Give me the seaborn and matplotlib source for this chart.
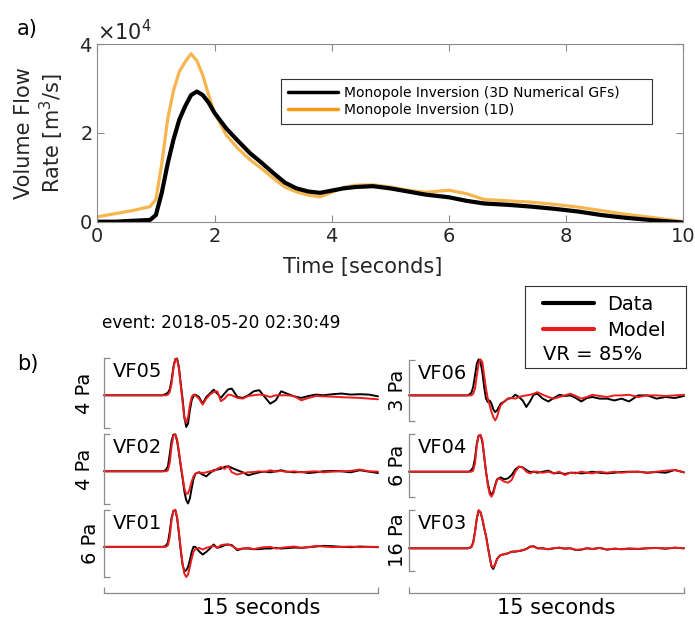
import numpy as np
import matplotlib
matplotlib.use("Agg")
import matplotlib.pyplot as plt
import matplotlib.ticker as mtick
from matplotlib.lines import Line2D
import seaborn as sns

# ----- a) volume flow rate (m^3/s) --------------------------------
flow_t = [0, 0.3, 0.6, 0.9, 1.0, 1.1, 1.2, 1.3, 1.4, 1.5, 1.6, 1.7, 1.8, 1.9, 2.0,
          2.2, 2.4, 2.6, 2.8, 3.0, 3.2, 3.4, 3.6, 3.8, 4.0, 4.2, 4.4, 4.7, 5.0,
          5.3, 5.6, 6.0, 6.3, 6.6, 7.0, 7.4, 7.8, 8.2, 8.6, 9.0, 9.5, 10.0]
flow_3d = [0, 0, 200, 400, 1500, 6500, 13000, 18500, 23000, 26000, 28500, 29300,
           28500, 26800, 24500, 21000, 18200, 15500, 13300, 11000, 8800, 7500,
           6800, 6500, 7000, 7500, 7800, 8000, 7500, 6800, 6100, 5500, 4700,
           4100, 3800, 3400, 2900, 2300, 1500, 900, 300, -200]
flow_1d = [1100, 1800, 2500, 3400, 5000, 13000, 23000, 29500, 33800, 36000, 37800,
           36200, 33000, 28500, 24500, 19500, 16500, 14000, 12000, 9800, 7800,
           6700, 6000, 5600, 6600, 7700, 8200, 8300, 7800, 7100, 6600, 7100, 6300,
           5000, 4700, 4400, 3900, 3300, 2500, 1700, 900, 0]
flow_labels = ["Monopole Inversion (3D Numerical GFs)", "Monopole Inversion (1D)"]

# ----- b) waveforms (Pa) --------------------------------------------
wave_t = [0, 3.0, 3.2, 3.3, 3.4, 3.5, 3.6, 3.7, 3.8, 3.9, 4.0, 4.1, 4.2, 4.3, 4.4,
          4.5, 4.6, 4.7, 4.8, 4.9, 5.0, 5.2, 5.4, 5.6, 5.8, 6.0, 6.2, 6.4, 6.6,
          6.8, 7.0, 7.3, 7.6, 7.9, 8.2, 8.5, 8.8, 9.1, 9.4, 9.7, 10.0, 10.4, 10.8,
          11.2, 11.6, 12.0, 12.5, 13.0, 13.5, 14.0, 14.5, 15.0]

data_vf05 = [0, 0, 0, 0.04, 0.08, 0.15, 0.34, 0.86, 1.62, 2.06, 2.10, 1.62, 0.67,
             -0.19, -1.24, -1.81, -1.62, -0.86, -0.29, -0.04, 0.04, -0.10, -0.48,
             -0.10, 0.10, 0.32, 0.10, -0.15, 0.10, 0.34, 0.38, -0.10, -0.15, 0,
             0.23, 0.29, -0.10, -0.48, -0.29, 0.23, 0.10, -0.06, -0.15, -0.04,
             0.04, 0, 0.06, 0.10, 0.04, 0.06, 0.04, -0.06]
model_vf05 = [0, 0, 0, 0, 0, 0.04, 0.19, 0.67, 1.52, 2.06, 2.06, 1.52, 0.57, -0.38,
              -1.33, -1.56, -1.24, -0.57, -0.10, 0.04, 0, -0.19, -0.53, -0.19, 0.04,
              0.19, 0.23, -0.34, -0.19, 0.04, 0, -0.15, -0.19, -0.04, 0, 0.04, 0,
              -0.10, 0, 0, 0, -0.04, -0.29, -0.15, -0.04, -0.06, -0.08, -0.11,
              -0.13, -0.15, -0.19, -0.23]
data_vf02 = [0, 0, 0, 0.02, 0.10, 0.29, 0.97, 1.74, 2.09, 2.11, 1.74, 1.06, 0.29,
             -0.39, -1.16, -1.64, -1.84, -1.55, -0.97, -0.44, -0.14, -0.06, -0.19,
             -0.29, -0.10, 0.06, 0.10, 0.14, 0.25, 0.29, 0.19, 0.06, -0.06, -0.23,
             -0.14, -0.06, -0.02, -0.06, 0, 0.06, -0.02, -0.06, -0.04, -0.10,
             -0.06, 0, 0.02, 0, -0.06, 0.06, -0.02, -0.10]
model_vf02 = [0, 0, 0, 0, 0, 0.06, 0.48, 1.45, 2.03, 2.11, 1.84, 1.16, 0.39, -0.29,
              -0.97, -1.30, -1.26, -0.97, -0.58, -0.29, -0.14, -0.06, -0.10, -0.06,
              0, 0, 0.14, 0.25, 0.14, 0.29, -0.06, -0.19, -0.10, -0.06, -0.04, 0,
              -0.04, 0.06, -0.02, 0.02, -0.04, 0, -0.06, -0.02, 0, -0.06, -0.02, 0,
              0.02, 0.10, 0, -0.02]
data_vf01 = [0, 0, 0, 0.03, 0.12, 0.39, 1.35, 2.61, 3.21, 3.30, 2.61, 1.20, -0.30,
             -1.59, -2.19, -2.10, -1.80, -1.20, -0.45, 0, 0, -0.39, -0.69, -0.45,
             -0.15, 0.21, -0.09, 0, 0.15, 0.21, 0.15, -0.30, -0.15, -0.15, -0.21,
             -0.21, -0.15, -0.15, -0.09, -0.15, -0.12, -0.06, -0.09, -0.03, 0.03,
             0.09, 0.06, 0, -0.03, 0.03, 0, -0.03]
model_vf01 = [0, 0, 0, 0, 0, 0.15, 0.90, 2.40, 3.21, 3.33, 2.70, 1.35, -0.15, -1.50,
              -2.40, -2.70, -2.49, -1.80, -1.05, -0.45, -0.21, -0.09, -0.24, -0.09,
              0, 0.09, -0.09, 0.15, 0.21, 0.21, 0.09, -0.21, -0.15, -0.09, -0.21,
              -0.09, -0.03, 0, -0.15, -0.09, -0.03, 0.03, -0.09, -0.03, 0.09, 0.03,
              -0.03, 0, 0.03, -0.03, 0, 0]
data_vf06 = [0, 0, 0, 0.05, 0.13, 0.41, 0.98, 1.56, 1.77, 1.64, 1.15, 0.41, -0.16,
             -0.33, -0.25, -0.41, -0.69, -0.82, -0.74, -0.57, -0.41, -0.30, -0.16,
             -0.13, 0.03, -0.08, -0.25, -0.57, -0.30, 0.03, 0.08, -0.16, -0.30,
             -0.13, 0.03, -0.03, 0, -0.13, -0.30, -0.13, -0.08, -0.16, -0.16,
             -0.25, -0.16, -0.30, 0, 0, -0.16, -0.08, -0.13, -0.03]
model_vf06 = [0, 0, 0, 0, 0, 0.08, 0.33, 0.98, 1.56, 1.77, 1.64, 0.98, 0.33, -0.16,
              -0.49, -0.82, -1.07, -1.23, -1.07, -0.74, -0.49, -0.30, -0.16, -0.13,
              -0.16, -0.08, -0.03, 0, 0.03, 0.08, 0.16, 0.03, -0.08, -0.16, -0.08,
              0, 0.08, -0.03, -0.16, -0.08, 0.03, -0.03, -0.08, 0, 0, 0.03, -0.08,
              0, 0, -0.03, 0, 0.03]
data_vf04 = [0, 0, 0, 0.03, 0.16, 0.41, 1.27, 2.70, 3.43, 3.49, 2.86, 1.43, 0,
             -1.11, -1.90, -2.22, -1.90, -1.27, -0.73, -0.63, -0.54, -0.73, -0.63,
             -0.32, 0.22, 0.48, 0.41, 0.16, -0.03, 0, -0.10, 0, 0.10, -0.16, -0.10,
             -0.22, -0.10, -0.10, -0.16, -0.10, 0, -0.10, -0.16, -0.10, -0.03, 0, 0,
             -0.10, -0.03, -0.10, 0.16, -0.06]
model_vf04 = [0, 0, 0, 0, 0, 0.10, 0.79, 2.54, 3.43, 3.52, 3.02, 1.59, 0, -1.27,
              -2.13, -2.38, -2.06, -1.37, -0.79, -0.63, -0.73, -0.95, -1.05, -0.79,
              0, 0.48, 0.41, 0, -0.16, 0, 0, -0.10, 0, -0.16, 0, -0.32, -0.10,
              -0.16, 0, -0.10, -0.16, 0, -0.10, 0, -0.10, -0.03, 0, -0.10, 0, 0.10,
              0.16, -0.06]
data_vf03 = [0, 0, 0, 0.17, 0.35, 1.57, 4.37, 7.87, 9.88, 9.44, 7.69, 5.24, 3.32,
             0.44, -2.19, -4.81, -5.42, -4.20, -2.80, -2.19, -1.75, -1.57, -1.31,
             -0.87, -0.87, -0.70, -0.52, -0.17, 0.44, 0.52, 0, 0, -0.26, 0, 0.17,
             -0.09, 0, -0.44, -0.35, 0, -0.17, 0.09, -0.35, -0.09, -0.26, -0.09,
             -0.17, 0, 0.09, -0.09, 0.17, 0]
model_vf03 = [0, 0, 0, 0.09, 0.26, 1.40, 4.20, 7.90, 10.0, 9.5, 7.8, 5.4, 3.1, 0.3,
              -2.3, -4.6, -5.0, -4.1, -2.9, -2.2, -1.8, -1.5, -1.3, -0.95, -0.8,
              -0.7, -0.45, -0.2, 0.35, 0.55, 0.05, -0.05, -0.2, 0.05, 0.15, -0.1,
              0.05, -0.4, -0.3, 0.05, -0.2, 0.1, -0.3, -0.1, -0.2, -0.05, -0.15,
              0.05, 0.1, -0.05, 0.15, 0.0]

stations = ["VF05", "VF02", "VF01", "VF06", "VF04", "VF03"]
scale_pa = [4, 4, 6, 3, 6, 16]
scale_lo = [-1.87, -1.87, -2.7, -1.26, -2.41, -5.95]
data_traces = [data_vf05, data_vf02, data_vf01, data_vf06, data_vf04, data_vf03]
model_traces = [model_vf05, model_vf02, model_vf01, model_vf06, model_vf04, model_vf03]
event_label = "event: 2018-05-20 02:30:49"
var_red = 85

# ---------------------------------------------------------------------
sns.set_style("white")
plt.rcParams["font.family"] = ["DejaVu Sans"]
plt.rcParams["mathtext.fontset"] = "dejavusans"
plt.rcParams["text.color"] = "k"

W, H = 695, 619
GREY = "#8a8a8a"
TXT = "#262626"
ORANGE = "#F39C12"
RED = "#ec1c1c"


def box(l, t, r, b):
    return [l / W, 1 - b / H, (r - l) / W, (b - t) / H]


fig = plt.figure(figsize=(W / 100, H / 100), dpi=100)

# ----- a) -----
ax = fig.add_axes(box(97.3, 44, 683.3, 221.7))
sns.lineplot(x=flow_t, y=flow_1d, ax=ax, color=ORANGE, lw=2.3, alpha=0.75)
sns.lineplot(x=flow_t, y=flow_3d, ax=ax, color="k", lw=3)
ax.set_xlim(0, 10)
ax.set_ylim(0, 40000)
ax.set_xticks(np.arange(0, 11, 2))
ax.set_yticks([0, 20000, 40000])
fmt = mtick.ScalarFormatter(useMathText=True)
fmt.set_powerlimits((0, 0))
ax.yaxis.set_major_formatter(fmt)
ax.yaxis.get_offset_text().set_fontsize(15)
ax.yaxis.get_offset_text().set_color(TXT)
ax.tick_params(direction="in", bottom=True, left=True, top=True, right=True,
               length=5, width=0.8, color=GREY, labelcolor=TXT, labelsize=14)
for s in ax.spines.values():
    s.set_color(GREY)
    s.set_linewidth(0.8)
ax.set_xlabel("Time [seconds]", fontsize=15, color=TXT)
ax.xaxis.set_label_coords(0.453, -0.2)
ax.set_ylabel("Volume Flow\nRate [m$^3$/s]", fontsize=15, color=TXT)
ax.yaxis.set_label_coords(-0.053, 0.5)
handles = [Line2D([], [], color="k", lw=2.5), Line2D([], [], color=ORANGE, lw=2.5)]
leg = ax.legend(handles, flow_labels, loc="upper left", mode="expand",
                bbox_to_anchor=(281 / W, 1 - 79 / H, 371 / W, 0.0),
                bbox_transform=fig.transFigure, fontsize=10, handlelength=3.6,
                handletextpad=0.45, borderpad=0.5, labelspacing=0.2,
                fancybox=False, framealpha=1, edgecolor="#333333",
                borderaxespad=0)
leg.get_frame().set_linewidth(0.8)
fig.text(17 / W, 1 - 19 / H, "a)", fontsize=15, va="top", color="k")

# ----- b) -----
left_col = (104, 378)
right_col = (409, 684)
rows = [(358, 428, left_col), (434, 504, left_col), (510, 577, left_col),
        (360, 421, right_col), (434, 497, right_col), (510, 571, right_col)]
label_x = [-0.035, -0.035, -0.015, -0.007, -0.007, -0.007]

for i, (top, bot, col) in enumerate(rows):
    wax = fig.add_axes(box(col[0], top, col[1], bot))
    sns.lineplot(x=wave_t, y=data_traces[i], ax=wax, color="k", lw=1.4, clip_on=False)
    sns.lineplot(x=wave_t, y=model_traces[i], ax=wax, color=RED, lw=1.4, clip_on=False)
    lo, hi = scale_lo[i], scale_lo[i] + scale_pa[i]
    wax.set_xlim(0, 15)
    wax.set_ylim(lo, hi)
    for side in ["top", "right", "bottom"]:
        wax.spines[side].set_visible(False)
    wax.spines["left"].set_bounds(lo, hi)
    wax.spines["left"].set_color(GREY)
    wax.spines["left"].set_linewidth(0.9)
    wax.set_yticks([lo, hi])
    wax.tick_params(axis="y", left=True, direction="in", length=4.5, width=0.9,
                    color=GREY, labelleft=False)
    wax.set_ylabel(f"{scale_pa[i]} Pa", fontsize=14, color="k")
    wax.yaxis.set_label_coords(label_x[i], 0.5)
    wax.annotate(stations[i], xy=(0, 1), xycoords="axes fraction",
                 xytext=(9, -4), textcoords="offset pixels", fontsize=14,
                 ha="left", va="top", color="k")
    if i in (2, 5):
        wax.spines["bottom"].set_visible(True)
        wax.spines["bottom"].set_color(GREY)
        wax.spines["bottom"].set_linewidth(0.9)
        wax.spines["bottom"].set_position(("outward", (593 - bot) * 0.72))
        wax.spines["bottom"].set_bounds(0, 15)
        wax.set_xticks([0, 15])
        wax.tick_params(axis="x", bottom=True, direction="in", length=4.5,
                        width=0.9, color=GREY, labelbottom=False)
        wax.set_xlabel("15 seconds", fontsize=15, color="k")
        lx = 0.573 if i == 2 else 0.535
        wax.xaxis.set_label_coords(lx, -(598 - bot) / (bot - top))
    else:
        wax.set_xticks([])

fig.text(221 / W, 1 - 323 / H, event_label, fontsize=12.2, ha="center",
         va="center", color="k")
fig.text(17 / W, 1 - 354 / H, "b)", fontsize=15, va="top", color="k")

lax = fig.add_axes(box(525, 286, 686, 368))
lax.set_xticks([])
lax.set_yticks([])
for s in lax.spines.values():
    s.set_color("#333333")
    s.set_linewidth(0.8)
lax.legend([Line2D([], [], color="k", lw=3), Line2D([], [], color=RED, lw=3)],
           ["Data", "Model"], loc="upper left", frameon=False, fontsize=14,
           bbox_to_anchor=(18 / 161, (368 - 295) / 82), borderaxespad=0,
           borderpad=0, handlelength=2.6, handletextpad=0.7, labelspacing=0.35)
lax.text(18 / 161, (368 - 355) / 82, f"VR = {var_red}%", fontsize=14,
         ha="left", va="center", transform=lax.transAxes)

fig.savefig("out.png", dpi=100)
